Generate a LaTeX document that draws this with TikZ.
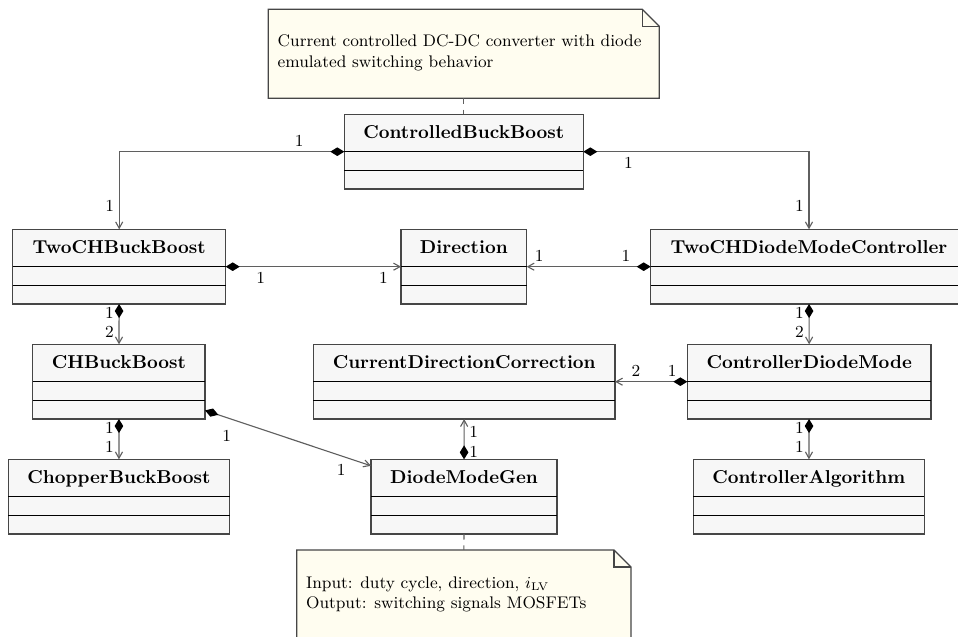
\documentclass[tikz,border=0pt]{standalone}
\usetikzlibrary{arrows.meta}
\newdimen\pxu
\pxu=0.535pt
\definecolor{clsfill}{RGB}{247,247,247}
\definecolor{notefill}{RGB}{255,253,240}
\definecolor{wire}{RGB}{95,95,95}
\definecolor{frame}{RGB}{70,70,70}
\tikzset{
  cls/.style={draw=frame, fill=clsfill, line width=0.6pt, rectangle,
    inner sep=0pt, outer sep=0pt, minimum height=74.7\pxu},
  ctitle/.style={anchor=base, inner sep=0pt, font=\bfseries},
  sep/.style={draw=black, line width=0.6pt},
  notebox/.style={rectangle, inner sep=0pt, outer sep=0pt},
  notetext/.style={anchor=base west, inner sep=0pt, align=left, font=\small},
  compo/.style={draw=wire, line width=0.6pt,
    {Diamond[length=7.5pt,width=4.6pt,fill=black,color=black]}-{Straight Barb[length=3.4pt,width=3.8pt]}},
  mult/.style={font=\small, inner sep=2.5pt, text=black},
  link/.style={draw=wire, line width=0.6pt, dashed},
}
% class box: name, centre x, title-line y, width, title
\newcommand\classbox[5]{%
  \node[cls, minimum width=#4\pxu] (#1) at (#2,#3) {};
  \node[ctitle] (#1-t) at ([yshift=-24\pxu]#1.north) {#5};
  \draw[sep] (#1.west) -- (#1.east);
  \draw[sep] ([yshift=-18.6\pxu]#1.west) -- ([yshift=-18.6\pxu]#1.east);
}
% note with folded corner around an empty node
\newcommand\foldnote[1]{%
  \filldraw[draw=frame, fill=notefill, line width=0.6pt]
    (#1.north west) -- ([xshift=-17\pxu]#1.north east)
    -- ([yshift=-17\pxu]#1.north east) -- (#1.south east)
    -- (#1.south west) -- cycle;
  \draw[frame, line width=0.6pt] ([xshift=-17\pxu]#1.north east)
    |- ([yshift=-17\pxu]#1.north east);
}
\begin{document}
\begin{tikzpicture}[x=0.535pt, y=-0.535pt]
\useasboundingbox (0,0) rectangle (958,637);
\begin{scope}
\clip (0,0) rectangle (958,637);

% notes (text anchored on the baseline of its last line)
\node[notebox, minimum width=391\pxu, minimum height=89\pxu] (n1) at (463.8,53.8) {};
\foldnote{n1}
\node[notetext] (n1-t) at ([xshift=9\pxu, yshift=-58.2\pxu]n1.north west)
  {Current controlled DC-DC converter with diode\\emulated switching behavior};

\node[notebox, minimum width=334.3\pxu, minimum height=89\pxu] (n2) at (463.85,594.5) {};
\foldnote{n2}
\node[notetext] (n2-t) at ([xshift=9\pxu, yshift=-58.7\pxu]n2.north west)
  {Input: duty cycle, direction, $i_{\mathrm{LV}}$\\Output: switching signals MOSFETs};

% classes
\classbox{cbb}{463.8}{151.7}{239}{ControlledBuckBoost}
\classbox{tch}{119.2}{266.7}{213}{TwoCHBuckBoost}
\classbox{dir}{463.85}{266.7}{125.7}{Direction}
\classbox{tdmc}{809}{266.7}{316.6}{TwoCHDiodeModeController}
\classbox{chbb}{118.9}{381.7}{172.3}{CHBuckBoost}
\classbox{cdc}{464.2}{381.7}{301.7}{CurrentDirectionCorrection}
\classbox{cdm}{809.2}{381.7}{243.7}{ControllerDiodeMode}
\classbox{chop}{119}{496.7}{221.4}{ChopperBuckBoost}
\classbox{dmg}{464}{496.7}{186}{DiodeModeGen}
\classbox{ca}{808.8}{496.7}{231}{ControllerAlgorithm}

% note anchors
\draw[link] (n1) -- (cbb);
\draw[link] (dmg) -- (n2);

% compositions
\draw[compo] (cbb) -| (tch)
  node[mult, pos=0.1, above] {1}
  node[mult, pos=0.85, left] {1};
\draw[compo] (cbb) -| (tdmc)
  node[mult, pos=0.1, below] {1}
  node[mult, pos=0.85, left] {1};
\draw[compo] (tch) -- (dir)
  node[mult, pos=0.2, below] {1}
  node[mult, pos=0.9, below] {1};
\draw[compo] (tdmc) -- (dir)
  node[mult, pos=0.2, above] {1}
  node[mult, pos=0.9, above] {1};
\draw[compo] (tch) -- (chbb)
  node[mult, pos=0.22, left] {1}
  node[mult, pos=0.7, left] {2};
\draw[compo] (tdmc) -- (cdm)
  node[mult, pos=0.22, left] {1}
  node[mult, pos=0.7, left] {2};
\draw[compo] (chbb) -- (chop)
  node[mult, pos=0.22, left] {1}
  node[mult, pos=0.7, left] {1};
\draw[compo] (cdm) -- (ca)
  node[mult, pos=0.22, left] {1}
  node[mult, pos=0.7, left] {1};
\draw[compo] (chbb) -- (dmg)
  node[mult, pos=0.13, below=4pt] {1}
  node[mult, pos=0.82, below=2pt] {1};
\draw[compo] (dmg) -- (cdc)
  node[mult, pos=0.18, right] {1}
  node[mult, pos=0.68, right] {1};
\draw[compo] (cdm) -- (cdc)
  node[mult, pos=0.21, above] {1}
  node[mult, pos=0.71, above] {2};
\end{scope}
\end{tikzpicture}
\end{document}
